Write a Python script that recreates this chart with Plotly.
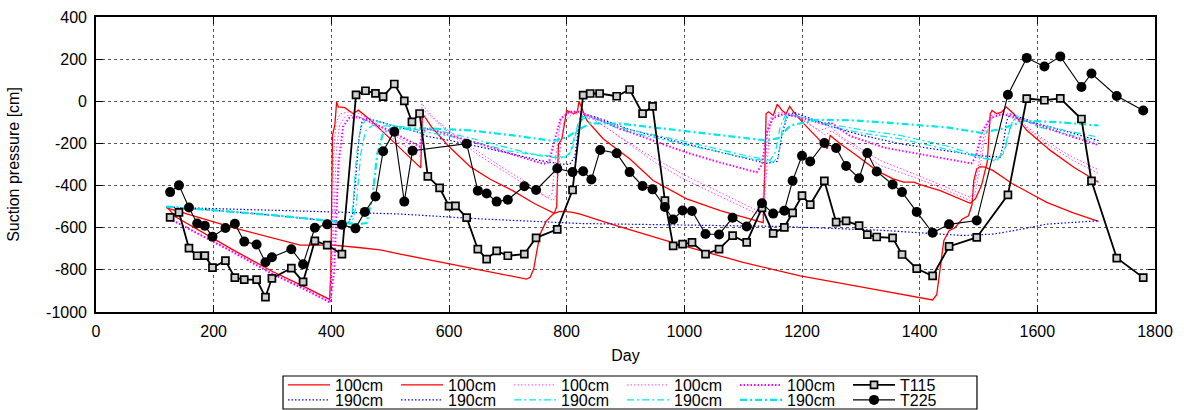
import plotly.graph_objects as go

# ---------------- measured suction pressure (tensiometers) ----------------
t115_day = [126, 141, 158, 172, 185, 198, 220, 236, 252, 273, 288, 299, 332, 352, 372, 393, 418,
            442, 458, 475, 488, 507, 524, 537, 550, 564, 584, 600, 611, 630, 649, 664, 681, 700,
            728, 748, 784, 810, 828, 840, 856, 885, 907, 929, 946, 967, 981, 997, 1013, 1036,
            1059, 1082, 1106, 1132, 1151, 1170, 1184, 1200, 1214, 1238, 1258, 1275, 1297, 1311,
            1327, 1354, 1370, 1395, 1422, 1450, 1497, 1550, 1582, 1612, 1639, 1675, 1692, 1735, 1780]
t115_cm = [-551, -527, -697, -733, -732, -789, -756, -837, -846, -846, -929, -840, -792, -857, -662, -683, -725,
           30, 50, 38, 22, 82, 2, -98, -58, -356, -411, -498, -496, -552, -702, -749, -710, -733,
           -725, -648, -608, -421, 29, 37, 37, 24, 56, -59, -24, -471, -686, -678, -670, -725,
           -702, -638, -670, -506, -627, -598, -530, -448, -490, -378, -573, -568, -590, -633,
           -644, -648, -727, -794, -829, -689, -646, -444, 13, 5, 14, -84, -378, -744, -837]

t225_day = [126, 141, 158, 172, 185, 198, 220, 236, 252, 273, 288, 299, 332, 352, 372, 393, 418,
            441, 457, 475, 488, 507, 524, 538, 630, 649, 664, 681, 700, 728, 748, 784, 810, 828,
            842, 857, 885, 907, 929, 946, 967, 981, 997, 1013, 1036, 1059, 1082, 1106, 1132, 1151,
            1170, 1184, 1200, 1214, 1238, 1258, 1275, 1297, 1311, 1327, 1354, 1370, 1395, 1422,
            1450, 1497, 1550, 1582, 1612, 1639, 1675, 1692, 1735, 1780]
t225_cm = [-431, -399, -504, -580, -591, -643, -601, -581, -666, -680, -764, -740, -702, -773, -600, -584, -586,
           -603, -525, -452, -237, -144, -476, -235, -201, -424, -438, -476, -467, -403, -421, -319, -336, -332,
           -371, -231, -247, -336, -402, -418, -502, -561, -518, -521, -630, -632, -553, -594, -484, -533,
           -519, -377, -259, -286, -198, -222, -307, -365, -246, -333, -395, -431, -525, -624,
           -584, -566, 31, 206, 165, 213, 68, 132, 25, -44]

# ---------------- simulated suction pressure ----------------
# run A
sim_a_100_day = [120, 233, 347, 403, 450, 483, 517, 585, 650, 700, 732, 738, 744, 750, 755, 765, 777, 787,
                 797, 810, 823, 880, 940, 999, 1100, 1163, 1197, 1300, 1422, 1429, 1435, 1441, 1450, 1460,
                 1472, 1483, 1489, 1492, 1497, 1503, 1511, 1525, 1557, 1616, 1660, 1704]
sim_a_100_cm = [-506, -600, -683, -683, -695, -705, -725, -762, -800, -828, -844, -835, -795, -700, -630, -570, -535, -524,
                -522, -527, -535, -586, -636, -686, -765, -808, -829, -881, -943, -918, -790, -662, -614, -600,
                -560, -543, -490, -376, -321, -310, -312, -329, -390, -480, -528, -570]
sim_a_190_day = [120, 250, 400, 517, 653, 823, 993, 1163, 1333, 1418, 1474, 1526, 1560, 1616, 1660, 1704]
sim_a_190_cm = [-503, -512, -525, -535, -558, -580, -587, -594, -612, -628, -637, -630, -614, -583, -574, -567]

# run B
sim_b_100_day = [120, 135, 233, 300, 347, 397, 399, 401, 402, 406, 409, 412, 423, 437, 446, 466, 494, 522, 552,
                 555, 570, 600, 636, 670, 709, 745, 779, 783, 786, 792, 800, 812, 818, 821, 825, 834, 862,
                 891, 908, 947, 1004, 1061, 1118, 1134, 1137, 1139, 1143, 1151, 1158, 1166, 1173, 1179,
                 1186, 1203, 1225, 1243, 1248, 1265, 1293, 1327, 1355, 1373, 1390, 1401, 1435, 1486, 1495,
                 1505, 1515, 1520, 1523, 1531, 1540, 1547, 1560, 1582, 1622, 1662, 1704]
sim_b_100_cm = [-500, -548, -705, -808, -870, -940, -820, -400, -160, -112, -3, -27, -30, -59, -42, -87, -162, -235, -316,
                -58, -120, -215, -310, -370, -425, -485, -532, -500, -205, -178, -43, -59, -50, 0, -30, -90, -178,
                -241, -275, -376, -463, -519, -563, -576, -300, -59, -50, -67, -14, -43, -59, -24,
                -51, -106, -170, -225, -162, -202, -257, -329, -368, -384, -384, -395, -424, -484, -462,
                -400, -285, -60, -43, -59, -51, -27, -59, -138, -233, -313, -384]
sim_b_190_day = [120, 250, 400, 428, 436, 442, 447, 452, 458, 480, 510, 550, 560, 600, 653, 700, 755, 790, 805,
                 814, 820, 828, 850, 908, 1000, 1100, 1140, 1158, 1166, 1174, 1186, 1250, 1300, 1367, 1497,
                 1537, 1542, 1548, 1554, 1600, 1650, 1704]
sim_b_190_cm = [-500, -528, -568, -578, -540, -350, -180, -100, -80, -95, -120, -148, -165, -185, -215, -245, -281, -298, -300,
                -262, -130, -62, -75, -135, -200, -270, -295, -285, -160, -78, -52, -120, -160, -202, -257,
                -265, -205, -92, -60, -105, -145, -186]

# run C
sim_c_100_day = [120, 230, 300, 350, 397, 401, 404, 408, 415, 430, 445, 470, 500, 530, 552, 554, 560, 575, 600,
                 650, 700, 740, 766, 775, 782, 790, 800, 820, 840, 880, 930, 1000, 1060, 1118, 1132, 1138,
                 1143, 1150, 1170, 1190, 1230, 1248, 1270, 1333, 1390, 1418, 1486, 1492, 1500, 1510, 1520,
                 1540, 1560, 1600, 1650, 1704]
sim_c_100_cm = [-550, -708, -815, -880, -945, -700, -250, -100, -60, -50, -55, -95, -150, -200, -245, -10, -35, -80, -140,
                -240, -330, -400, -456, -440, -250, -90, -55, -45, -75, -150, -240, -350, -430, -511, -520, -300,
                -100, -60, -50, -70, -140, -120, -175, -281, -344, -376, -456, -420, -300, -150, -70,
                -45, -70, -160, -250, -326]
sim_c_190_day = [120, 300, 400, 430, 436, 443, 450, 460, 500, 551, 560, 600, 653, 700, 760, 790, 805, 815, 823,
                 850, 891, 1000, 1100, 1151, 1160, 1166, 1175, 1200, 1250, 1300, 1367, 1450, 1503, 1530,
                 1545, 1555, 1565, 1600, 1650, 1704]
sim_c_190_cm = [-500, -540, -570, -582, -520, -250, -120, -85, -110, -150, -145, -165, -200, -235, -260, -270, -250, -150, -70,
                -80, -135, -205, -265, -289, -260, -140, -60, -75, -120, -150, -178, -230, -265, -285,
                -230, -110, -70, -120, -155, -194]

# run D
sim_d_100_day = [120, 230, 300, 350, 398, 403, 408, 414, 425, 440, 460, 500, 530, 552, 555, 565, 600, 650, 700,
                 740, 777, 783, 788, 795, 810, 830, 860, 900, 950, 1000, 1060, 1118, 1134, 1140, 1146, 1155,
                 1175, 1200, 1240, 1250, 1280, 1333, 1390, 1418, 1486, 1494, 1502, 1512, 1522, 1545, 1570,
                 1620, 1660, 1704]
sim_d_100_cm = [-550, -710, -820, -888, -955, -700, -250, -110, -70, -65, -90, -170, -220, -265, -40, -60, -150, -255, -345,
                -415, -471, -440, -250, -100, -60, -60, -110, -190, -290, -370, -450, -527, -540, -300, -110, -65,
                -55, -85, -160, -140, -200, -305, -360, -390, -471, -440, -320, -160, -80, -60, -100,
                -210, -280, -342]
sim_d_190_day = [120, 300, 400, 435, 442, 450, 458, 470, 520, 551, 560, 600, 653, 700, 739, 780, 800, 810, 818,
                 828, 850, 891, 1000, 1100, 1146, 1155, 1163, 1172, 1200, 1250, 1300, 1367, 1450, 1503,
                 1526, 1542, 1552, 1562, 1600, 1650, 1704]
sim_d_190_cm = [-500, -540, -570, -582, -500, -250, -140, -115, -120, -138, -130, -150, -186, -220, -249, -262, -265, -220, -130,
                -80, -85, -125, -190, -255, -280, -240, -120, -65, -75, -110, -135, -162, -215, -262,
                -280, -250, -140, -75, -110, -140, -170]

# run E
sim_e_100_day = [120, 230, 300, 350, 398, 405, 412, 420, 430, 445, 460, 500, 530, 550, 556, 565, 600, 650, 700,
                 740, 760, 770, 778, 790, 805, 820, 840, 891, 950, 1000, 1060, 1110, 1123, 1132, 1140, 1150,
                 1170, 1200, 1240, 1248, 1282, 1340, 1395, 1450, 1488, 1496, 1505, 1520, 1540, 1560, 1600,
                 1650, 1704]
sim_e_100_cm = [-550, -712, -820, -885, -955, -800, -300, -120, -80, -75, -90, -140, -185, -215, -140, -130, -160, -200, -245,
                -280, -297, -290, -200, -80, -50, -50, -70, -130, -190, -240, -290, -330, -337, -300, -150, -80,
                -60, -80, -110, -100, -165, -220, -249, -275, -295, -260, -150, -80, -60, -75, -110,
                -160, -208]
sim_e_190_day = [120, 300, 400, 445, 460, 470, 478, 488, 500, 560, 636, 709, 777, 800, 820, 840, 891, 1000, 1100,
                 1140, 1160, 1180, 1225, 1282, 1367, 1450, 1505, 1540, 1580, 1640, 1704]
sim_e_190_cm = [-500, -540, -568, -583, -578, -450, -250, -150, -130, -128, -138, -162, -188, -172, -135, -105, -106, -140, -172,
                -186, -175, -115, -88, -90, -106, -125, -150, -130, -92, -100, -115]

# ---------------- axes ----------------
x_ticks = [0, 200, 400, 600, 800, 1000, 1200, 1400, 1600, 1800]
y_ticks = [-1000, -800, -600, -400, -200, 0, 200, 400]
y_tick_labels = ["-1000", "-800", "-600", "-400", "-200", "0", "200", "400"]

FONT = "Liberation Sans, Arial, Helvetica, sans-serif"
FS = 16
RED = "#ff0000"
BLUE = "#0000ff"
MAGENTA = "#ff40ff"
MAGENTA_BOLD = "#ff00ff"
CYAN = "#00e8e8"
DOT = "1.5px,2px"
DASHDOT = "7px,3px,2px,3px"

fig = go.Figure()


def sim(day, cm, name, color, width, dash, legend):
    fig.add_trace(go.Scatter(x=day, y=cm, mode="lines", name=name, legend=legend,
                             line=dict(color=color, width=width, dash=dash)))


sim(sim_a_100_day, sim_a_100_cm, "100cm", RED, 1.3, "solid", "legend")
sim(sim_a_190_day, sim_a_190_cm, "190cm", BLUE, 1.2, DOT, "legend2")
sim(sim_b_100_day, sim_b_100_cm, "100cm", RED, 1.3, "solid", "legend")
sim(sim_b_190_day, sim_b_190_cm, "190cm", BLUE, 1.2, DOT, "legend2")
sim(sim_c_100_day, sim_c_100_cm, "100cm", MAGENTA, 1.0, DOT, "legend")
sim(sim_c_190_day, sim_c_190_cm, "190cm", CYAN, 1.2, DASHDOT, "legend2")
sim(sim_d_100_day, sim_d_100_cm, "100cm", MAGENTA, 1.0, DOT, "legend")
sim(sim_d_190_day, sim_d_190_cm, "190cm", CYAN, 1.2, DASHDOT, "legend2")
sim(sim_e_100_day, sim_e_100_cm, "100cm", MAGENTA_BOLD, 2.0, DOT, "legend")
sim(sim_e_190_day, sim_e_190_cm, "190cm", CYAN, 2.2, DASHDOT, "legend2")

fig.add_trace(go.Scatter(
    x=t115_day, y=t115_cm, mode="lines+markers", name="T115", legend="legend",
    line=dict(color="black", width=1.8),
    marker=dict(symbol="square", size=7, color="#d0d0d0", line=dict(color="black", width=1.7))))
fig.add_trace(go.Scatter(
    x=t225_day, y=t225_cm, mode="lines+markers", name="T225", legend="legend2",
    line=dict(color="black", width=1.1),
    marker=dict(symbol="circle", size=10, color="black")))

axis_common = dict(
    showline=True, linecolor="black", linewidth=1.6, mirror="ticks",
    ticks="inside", ticklen=7, tickcolor="black", tickwidth=1,
    showgrid=True, gridcolor="#555555", griddash="dot", gridwidth=1,
    zeroline=False, tickfont=dict(family=FONT, size=FS, color="black"),
)

legend_common = dict(
    orientation="h", xref="paper", x=0.1766, xanchor="left", yanchor="middle",
    entrywidth=56, entrywidthmode="pixels", itemwidth=42, borderwidth=0,
    bgcolor="rgba(0,0,0,0)", font=dict(family=FONT, size=FS, color="black"),
    tracegroupgap=0, itemclick=False, itemdoubleclick=False,
)

fig.update_layout(
    width=1184, height=410,
    margin=dict(l=96, r=29, t=17, b=98, autoexpand=False),
    paper_bgcolor="white", plot_bgcolor="white",
    font=dict(family=FONT, size=FS, color="black"),
    xaxis=dict(range=[0, 1800], tickvals=x_ticks, ticktext=[str(v) for v in x_ticks],
               ticklabelstandoff=4,
               title=dict(text="Day", font=dict(family=FONT, size=FS), standoff=11),
               **axis_common),
    yaxis=dict(range=[-1000, 400], tickvals=y_ticks, ticktext=y_tick_labels,
               ticklabelstandoff=4,
               title=dict(text="Suction pressure [cm]", font=dict(family=FONT, size=FS), standoff=22),
               **axis_common),
    legend=dict(y=-0.2475, **legend_common),
    legend2=dict(y=-0.2983, **legend_common),
    shapes=[dict(type="rect", xref="paper", yref="paper", x0=0.1766, x1=0.8319, y0=-0.3288, y1=-0.2169,
                 line=dict(color="black", width=1.2), fillcolor="rgba(0,0,0,0)", layer="above")],
)

fig.write_html("out.html")
